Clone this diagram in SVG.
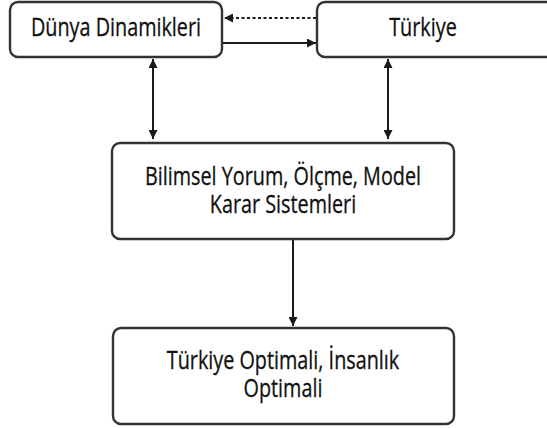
<svg xmlns="http://www.w3.org/2000/svg" width="547" height="428" viewBox="0 0 547 428">
<style>
.box{fill:#fff;stroke:#333;stroke-width:2.4}
.t{font-family:"Open Sans","Noto Sans",sans-serif;font-size:19.8px;fill:#111;stroke:#111;stroke-width:0.25;text-anchor:middle}
.c{stroke:#1a1a1a;stroke-width:2;fill:none}
</style>
<defs>
<marker id="ah" viewBox="0 0 10 10" refX="10" refY="5" markerWidth="10" markerHeight="9" orient="auto-start-reverse" markerUnits="userSpaceOnUse">
<path d="M0,0 L10,5 L0,10 z" fill="#1a1a1a"/>
</marker>
</defs>
<rect width="547" height="428" fill="#fff"/>
<g id="n1"><rect class="box" x="10" y="2" width="212" height="55" rx="8"/><text class="t" transform="translate(116,36) scale(1,1.3)">Dünya Dinamikleri</text></g>
<g id="n2"><rect class="box" x="317" y="2" width="240" height="55" rx="8"/><text class="t" transform="translate(423,36) scale(1,1.3)">Türkiye</text></g>
<g id="n3"><rect class="box" x="112" y="143" width="342" height="96" rx="8"/><text class="t" transform="translate(283,185) scale(1,1.3)">Bilimsel Yorum, Ölçme, Model</text><text class="t" transform="translate(283,213) scale(1,1.3)">Karar Sistemleri</text></g>
<g id="n4"><rect class="box" x="113" y="328" width="341" height="96" rx="8"/><text class="t" transform="translate(283,369) scale(1,1.3)">Türkiye Optimali, İnsanlık</text><text class="t" transform="translate(283,397) scale(1,1.3)">Optimali</text></g>
<g id="connectors">
<line class="c" x1="316" y1="18" x2="224" y2="18" stroke-dasharray="3,2.5" marker-end="url(#ah)"/>
<line class="c" x1="223" y1="43" x2="316" y2="43" marker-end="url(#ah)"/>
<line class="c" x1="153" y1="59" x2="153" y2="139" marker-start="url(#ah)" marker-end="url(#ah)"/>
<line class="c" x1="388" y1="59" x2="388" y2="139" marker-start="url(#ah)" marker-end="url(#ah)"/>
<line class="c" x1="293" y1="240" x2="293" y2="326" marker-end="url(#ah)"/>
</g>
</svg>
